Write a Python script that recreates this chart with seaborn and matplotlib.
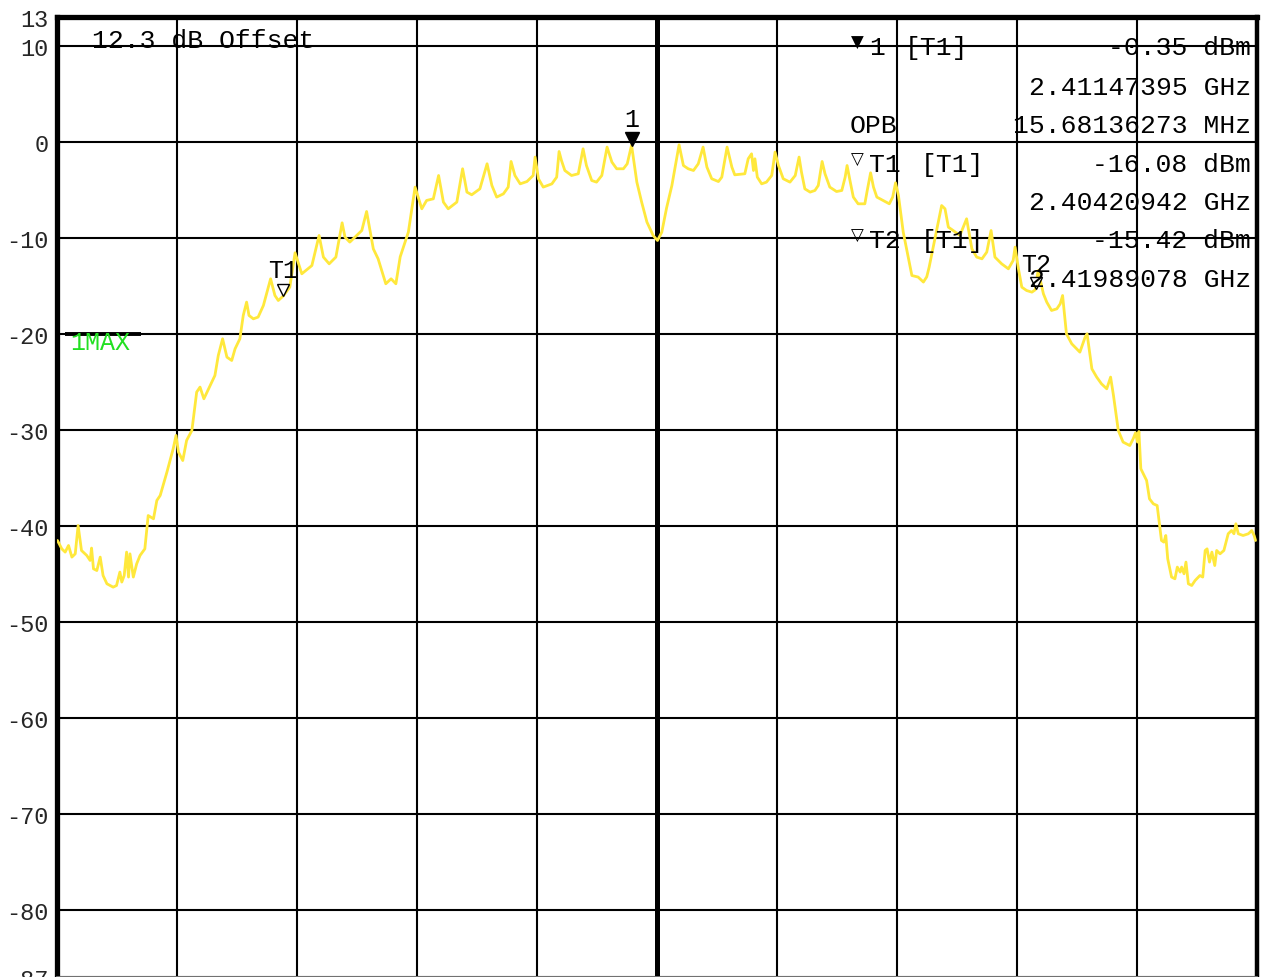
import matplotlib
matplotlib.use("Agg")
import matplotlib.pyplot as plt
import pandas as pd
import seaborn as sns

# ---- trace data (frequency in MHz, level in dBm) ----
freq_mhz = [
    2399.51, 2399.60, 2399.67, 2399.74, 2399.81, 2399.88, 2399.94, 2400.01, 2400.12, 2400.19,
    2400.22, 2400.26, 2400.33, 2400.40, 2400.46, 2400.54, 2400.67, 2400.74, 2400.81, 2400.85,
    2400.90, 2400.95, 2400.99, 2401.02, 2401.09, 2401.16, 2401.23, 2401.33, 2401.40, 2401.51,
    2401.58, 2401.65, 2401.79, 2401.92, 2401.98, 2402.03, 2402.12, 2402.20, 2402.31, 2402.41,
    2402.48, 2402.56, 2402.69, 2402.79, 2402.86, 2402.95, 2403.04, 2403.14, 2403.21, 2403.31,
    2403.38, 2403.45, 2403.50, 2403.59, 2403.69, 2403.80, 2403.95, 2404.04, 2404.11, 2404.21,
    2404.35, 2404.46, 2404.60, 2404.81, 2404.96, 2405.05, 2405.17, 2405.31, 2405.44, 2405.50,
    2405.60, 2405.85, 2405.95, 2406.09, 2406.19, 2406.35, 2406.46, 2406.56, 2406.65, 2406.82,
    2406.96, 2407.10, 2407.20, 2407.34, 2407.45, 2407.55, 2407.65, 2407.83, 2407.95, 2408.04,
    2408.14, 2408.31, 2408.46, 2408.56, 2408.66, 2408.80, 2408.90, 2408.96, 2409.04, 2409.15,
    2409.29, 2409.42, 2409.46, 2409.53, 2409.63, 2409.81, 2409.91, 2409.96, 2410.01, 2410.08,
    2410.22, 2410.36, 2410.46, 2410.53, 2410.64, 2410.74, 2410.85, 2410.96, 2411.06, 2411.16,
    2411.30, 2411.38, 2411.47, 2411.58, 2411.68, 2411.79, 2411.92, 2412.01, 2412.10, 2412.20,
    2412.31, 2412.46, 2412.55, 2412.65, 2412.76, 2412.86, 2412.96, 2413.04, 2413.14, 2413.28,
    2413.35, 2413.46, 2413.56, 2413.62, 2413.83, 2413.90, 2413.97, 2414.01, 2414.04, 2414.09,
    2414.18, 2414.28, 2414.39, 2414.46, 2414.53, 2414.63, 2414.77, 2414.88, 2414.96, 2415.01,
    2415.08, 2415.19, 2415.29, 2415.36, 2415.44, 2415.50, 2415.60, 2415.74, 2415.85, 2415.92,
    2415.96, 2416.02, 2416.09, 2416.19, 2416.33, 2416.38, 2416.45, 2416.51, 2416.58, 2416.71,
    2416.84, 2416.91, 2416.97, 2417.03, 2417.13, 2417.24, 2417.31, 2417.44, 2417.55, 2417.62,
    2417.67, 2417.79, 2417.93, 2418.00, 2418.07, 2418.17, 2418.31, 2418.45, 2418.56, 2418.66,
    2418.77, 2418.87, 2418.96, 2419.04, 2419.18, 2419.32, 2419.42, 2419.46, 2419.53, 2419.60,
    2419.70, 2419.81, 2419.88, 2419.94, 2420.05, 2420.12, 2420.22, 2420.33, 2420.40, 2420.45,
    2420.53, 2420.64, 2420.74, 2420.81, 2420.92, 2420.96, 2421.06, 2421.16, 2421.26, 2421.37,
    2421.45, 2421.51, 2421.61, 2421.71, 2421.85, 2421.92, 2421.97, 2422.01, 2422.04, 2422.08,
    2422.20, 2422.26, 2422.34, 2422.42, 2422.51, 2422.56, 2422.60, 2422.64, 2422.72, 2422.79,
    2422.84, 2422.90, 2422.93, 2422.98, 2423.02, 2423.07, 2423.14, 2423.21, 2423.31, 2423.37,
    2423.42, 2423.46, 2423.51, 2423.56, 2423.62, 2423.66, 2423.73, 2423.81, 2423.90, 2423.97,
    2424.02, 2424.06, 2424.11, 2424.21, 2424.32, 2424.39, 2424.44, 2424.47,
]
level_dbm = [
    -41.53, -42.40, -42.74, -42.05, -43.26, -42.92, -39.97, -42.57, -43.09, -43.61,
    -42.32, -44.48, -44.66, -43.26, -45.18, -46.04, -46.39, -46.22, -44.82, -45.86,
    -45.18, -42.74, -45.34, -42.92, -45.34, -43.96, -43.09, -42.40, -38.93, -39.27,
    -37.36, -36.84, -34.41, -31.98, -30.59, -32.32, -33.20, -31.11, -30.07, -26.07,
    -25.55, -26.77, -25.39, -24.34, -22.26, -20.52, -22.43, -22.78, -21.56, -20.52,
    -18.09, -16.70, -18.09, -18.44, -18.26, -17.05, -14.27, -16.01, -16.53, -16.08,
    -15.14, -11.56, -13.75, -12.89, -9.76, -12.01, -12.71, -12.01, -8.44, -9.93,
    -10.45, -9.24, -7.26, -11.15, -12.19, -14.79, -14.27, -14.79, -11.98, -9.41,
    -4.72, -6.98, -6.11, -5.94, -3.51, -6.28, -6.98, -6.28, -2.81, -5.24,
    -5.52, -4.90, -2.29, -4.55, -5.76, -5.42, -4.72, -2.05, -3.51, -4.38,
    -4.14, -3.51, -1.59, -3.85, -4.72, -4.38, -3.68, -1.01, -1.95, -2.99,
    -3.51, -3.33, -0.73, -2.47, -4.03, -4.20, -3.51, -0.55, -2.11, -2.81,
    -2.81, -2.29, -0.35, -4.20, -6.28, -8.36, -9.76, -10.28, -9.41, -6.88,
    -4.55, -0.31, -2.47, -2.81, -2.99, -2.29, -0.55, -2.64, -3.85, -4.14,
    -3.68, -0.55, -2.64, -3.44, -3.33, -1.77, -1.25, -2.99, -1.77, -3.68,
    -4.38, -4.20, -3.51, -1.07, -2.47, -3.85, -4.20, -3.51, -1.59, -3.16,
    -4.90, -5.24, -5.07, -4.55, -2.05, -3.33, -4.72, -5.18, -5.07, -3.68,
    -2.47, -4.03, -5.76, -6.46, -6.46, -5.07, -3.23, -4.72, -5.76, -6.11,
    -6.46, -5.76, -4.27, -5.59, -9.41, -12.19, -13.93, -14.09, -14.61, -14.06,
    -13.05, -10.10, -6.64, -6.98, -8.89, -9.24, -9.76, -8.02, -11.15, -12.01,
    -12.19, -11.49, -9.24, -12.01, -12.71, -13.23, -12.36, -10.97, -13.23, -15.14,
    -15.49, -15.66, -15.42, -13.41, -15.83, -16.70, -17.57, -17.40, -16.88, -16.01,
    -20.00, -21.04, -21.56, -21.91, -20.34, -20.00, -23.65, -24.51, -25.21, -25.73,
    -24.51, -26.43, -30.07, -31.28, -31.64, -30.94, -30.31, -31.28, -30.18, -34.06,
    -35.28, -37.19, -37.71, -37.89, -41.53, -41.70, -41.01, -43.44, -45.34, -45.52,
    -44.30, -44.82, -44.30, -45.00, -43.78, -46.04, -46.22, -45.70, -45.18, -45.34,
    -42.57, -42.40, -43.78, -42.74, -44.14, -42.57, -42.92, -42.57, -40.83, -40.49,
    -40.83, -39.79, -40.83, -41.01, -40.83, -40.49, -41.01, -41.53,
]

# ---- axis setup values ----
x_range = [2399.5, 2424.5]
x_grid = [2399.5, 2402.0, 2404.5, 2407.0, 2409.5, 2412.0, 2414.5, 2417.0, 2419.5, 2422.0, 2424.5]
center_mhz = 2412.0
y_range = [-87, 13]
y_ticks = [13, 10, 0, -10, -20, -30, -40, -50, -60, -70, -80, -87]
y_tick_labels = ["13", "10", "0", "-10", "-20", "-30", "-40", "-50", "-60", "-70", "-80", "-87"]

# ---- markers ----
marker_names = ["1", "T1", "T2"]
marker_freqs = [2411.47395, 2404.20942, 2419.89078]
marker_levels = [-0.35, -16.08, -15.42]

# ---- marker info table ----
table_left = [["\u25bc", "1", "[T1]"], ["", "OPB", ""], ["\u25bd", "T1", "[T1]"], ["\u25bd", "T2", "[T1]"]]
table_right = ["-0.35 dBm", "2.41147395 GHz", "15.68136273 MHz", "-16.08 dBm",
               "2.40420942 GHz", "-15.42 dBm", "2.41989078 GHz"]
offset_text = "12.3 dB Offset"
trace_label = "1MAX"

W, H = 1261, 978
sns.set_style("white")
plt.rcParams["axes.unicode_minus"] = False
plt.rcParams["font.family"] = ["Liberation Mono", "DejaVu Sans"]

fig = plt.figure(figsize=(W / 100, H / 100), dpi=100)
ax = fig.add_axes([57 / W, 0.0, 1200 / W, 960 / H])

df = pd.DataFrame({"freq": freq_mhz, "level": level_dbm})
sns.lineplot(data=df, x="freq", y="level", color="#ffe83c", linewidth=2.0,
             estimator=None, sort=False, ax=ax, legend=False, zorder=3)

ax.set_xlim(*x_range)
ax.set_ylim(*y_range)
ax.set_xticks(x_grid)
ax.set_xticklabels([])
ax.set_yticks(y_ticks)
ax.set_yticklabels(y_tick_labels, fontsize=17, family=["Liberation Mono", "DejaVu Sans"])
ax.tick_params(axis="both", length=0)
ax.tick_params(axis="y", pad=6)
ax.set_xlabel("")
ax.set_ylabel("")
ax.grid(True, color="black", linewidth=1.5, zorder=1)
ax.set_axisbelow(True)
ax.axvline(center_mhz, color="black", linewidth=3.6, zorder=2)

for side, lw, col in [("left", 3.8, "black"), ("top", 3.8, "black"),
                      ("right", 3.2, "black"), ("bottom", 1.2, "#888888")]:
    ax.spines[side].set_visible(True)
    ax.spines[side].set_linewidth(lw)
    ax.spines[side].set_color(col)


def px(x, y):
    return x / W, 1 - y / H


# markers on the trace
for i, (name, f, l) in enumerate(zip(marker_names, marker_freqs, marker_levels)):
    filled = (i == 0)
    ax.annotate("", xy=(f, l), zorder=5)
    ax.plot([f], [l], marker="v", markersize=10 if filled else 9,
            markerfacecolor="black" if filled else "white", markeredgecolor="black",
            markeredgewidth=1.0, linestyle="none", zorder=6,
            transform=ax.transData + matplotlib.transforms.ScaledTranslation(0, 6.5 / 100, fig.dpi_scale_trans))
    ax.annotate(name, xy=(f, l), xytext=(0, 13.5), textcoords="offset points",
                ha="center", va="baseline", fontsize=18, color="black", zorder=6)

# header offset text
fig.text(*px(92, 48), offset_text, fontsize=19, color="black", ha="left", va="baseline")

# trace label with its short bar
ax.plot([0.0067, 0.07], [-20, -20], color="black", linewidth=2.8,
        transform=ax.get_yaxis_transform(), zorder=4, solid_capstyle="butt")
fig.text(*px(70, 350), trace_label, fontsize=18, color="#22e022", ha="left", va="baseline")

# marker info table
left_rows_y = [55, 133, 172, 248]
for (sym, name, tr), yb in zip(table_left, left_rows_y):
    if sym:
        fig.text(*px(851, yb - 7), sym, fontsize=12, color="black", ha="left",
                 va="baseline", family="DejaVu Sans")
    nx = 869 if name in ("1", "T1", "T2") else 850
    fig.text(*px(nx, yb), name, fontsize=19, color="black", ha="left", va="baseline")
    if tr:
        tx = 905 if name == "1" else 921
        fig.text(*px(tx, yb), tr, fontsize=19, color="black", ha="left", va="baseline")

right_rows_y = [55, 95, 133, 172, 210, 248, 287]
for s, yb in zip(table_right, right_rows_y):
    fig.text(*px(1251, yb), s, fontsize=19, color="black", ha="right", va="baseline")

fig.savefig("out.png", dpi=100)
